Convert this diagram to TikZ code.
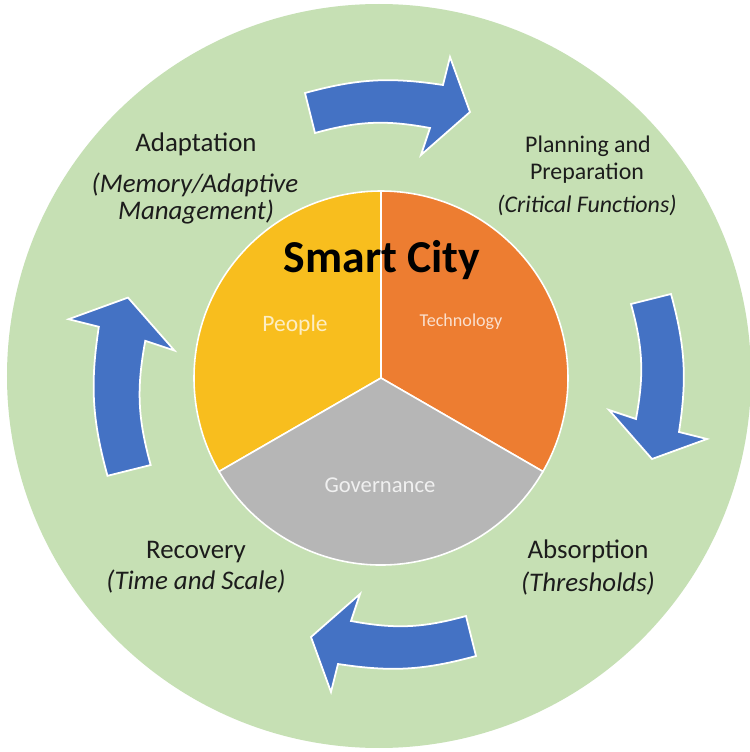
\documentclass[tikz,border=0pt]{standalone}
\usepackage{fontspec}
\setmainfont{Carlito}
\usepackage{xcolor,tikz}
\definecolor{ringgreen}{RGB}{198,224,180}
\definecolor{cycleblue}{RGB}{68,114,196}
\definecolor{peoplegold}{RGB}{248,190,30}
\definecolor{techorange}{RGB}{237,125,49}
\definecolor{govgray}{RGB}{182,182,182}
\definecolor{peopletext}{RGB}{253,238,196}
\definecolor{techtext}{RGB}{250,224,206}
\definecolor{govtext}{RGB}{240,240,240}
\definecolor{labeltext}{RGB}{28,28,28}
\usetikzlibrary{positioning}
\tikzset{
  phase/.style={font=\fontsize{15.3}{16}\selectfont,text=labeltext,anchor=base,inner sep=0pt},
  phasenote/.style={phase,font=\fontsize{15.3}{16}\selectfont\itshape},
  planphase/.style={phase,font=\fontsize{13.6}{14.5}\selectfont},
  plannote/.style={phase,font=\fontsize{13.6}{14.5}\selectfont\itshape},
  slice/.style={draw=white,line width=0.9pt},
  slicelabel/.style={anchor=base,inner sep=0pt},
  turnarrow/.pic={
    \filldraw[fill=cycleblue,draw=white,line width=1pt,line join=miter]
      (-85,19) to[bend left=12] (53,27) -- (60,55) -- (80,0) -- (31,-43)
      -- (40,-16) to[bend right=13] (-75,-21) -- cycle;
  }
}

\begin{document}
\begin{tikzpicture}[x=0.02cm,y=0.02cm]
\useasboundingbox (0,0) rectangle (750,752);
\fill[white] (0,0) rectangle (750,752);
\fill[ringgreen] (379,376) circle[radius=372];
% the four arrows of the cycle
\pic at (390,640) {turnarrow};
\pic[rotate=-90] at (652,373) {turnarrow};
\pic[rotate=180] at (391,115) {turnarrow};
\pic[rotate=90,scale=1.08] at (128,368) {turnarrow};
% pie in the middle
\coordinate (hub) at (381,374);
\filldraw[slice,fill=peoplegold] (hub) -- +(90:187) arc[start angle=90,end angle=210,radius=187] -- cycle;
\filldraw[slice,fill=techorange] (hub) -- +(90:187) arc[start angle=90,end angle=-30,radius=187] -- cycle;
\filldraw[slice,fill=govgray] (hub) -- +(-30:187) arc[start angle=-30,end angle=-150,radius=187] -- cycle;
\node[slicelabel,font=\fontsize{26}{28}\selectfont\bfseries] (city) at (382,479) {Smart City};
\node[slicelabel,text=peopletext,font=\fontsize{13.4}{14}\selectfont] (people) at (295,420) {People};
\node[slicelabel,text=techtext,font=\fontsize{10.3}{11}\selectfont] (tech) at (461,425) {Technology};
\node[slicelabel,text=govtext,font=\fontsize{12.9}{13}\selectfont] (gov) at (380,259) {Governance};
% phases around the ring
\node[phase] (adapt) at (196,600) {Adaptation};
\node[phasenote] (adaptnote) at (195,559) {(Memory/Adaptive};
\node[phasenote] (adaptnote2) at (196,532) {Management)};
\node[planphase] (plan) at (588,599) {Planning and};
\node[planphase] (plan2) at (587,572) {Preparation};
\node[plannote] (plannote) at (587,539) {(Critical Functions)};
\node[phase] (absorb) at (588,194) {Absorption};
\node[phasenote] (absorbnote) at (588,160) {(Thresholds)};
\node[phase] (recover) at (196,194) {Recovery};
\node[phasenote] (recovernote) at (196,162) {(Time and Scale)};
\end{tikzpicture}
\end{document}
